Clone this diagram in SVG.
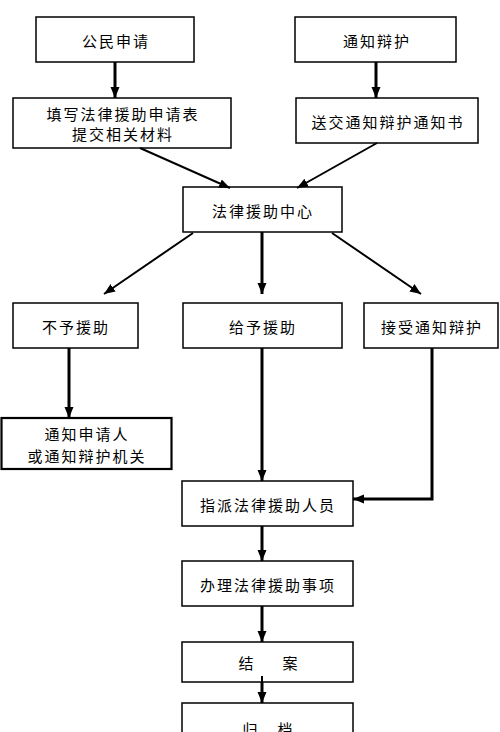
<svg xmlns="http://www.w3.org/2000/svg" width="500" height="732" viewBox="0 0 500 732">
<style>
.box{fill:#fff;stroke:#000;stroke-width:1.5}
.t{font-family:"Noto Sans CJK SC","Noto Sans CJK JP",sans-serif;font-size:15px;fill:#000;text-anchor:middle;dominant-baseline:central;letter-spacing:2px}
.c{fill:none;stroke:#000;stroke-width:3}
.d{fill:none;stroke:#000;stroke-width:2}
</style>
<defs>
<marker id="ah" markerUnits="userSpaceOnUse" markerWidth="12" markerHeight="12" viewBox="0 0 12 12" refX="11" refY="6" orient="auto">
<path d="M0,1.5 L11,6 L0,10.5 Z" fill="#000"/>
</marker>
</defs>
<rect width="500" height="732" fill="#fff"/>
<g id="n1"><rect class="box" x="36" y="17" width="158" height="45"/><text class="t" x="116" y="40">公民申请</text></g>
<g id="n2"><rect class="box" x="295" y="17" width="161" height="45"/><text class="t" x="377" y="40">通知辩护</text></g>
<g id="n3"><rect class="box" x="13" y="98" width="218" height="50"/><text class="t" x="123" y="113">填写法律援助申请表</text><text class="t" x="123" y="133">提交相关材料</text></g>
<g id="n4"><rect class="box" x="296" y="98" width="182" height="45"/><text class="t" x="388" y="121">送交通知辩护通知书</text></g>
<g id="n5"><rect class="box" x="183" y="187" width="159" height="45"/><text class="t" x="263" y="210">法律援助中心</text></g>
<g id="n6"><rect class="box" x="13" y="303" width="125" height="45"/><text class="t" x="76" y="326">不予援助</text></g>
<g id="n7"><rect class="box" x="183" y="303" width="159" height="45"/><text class="t" x="263" y="326">给予援助</text></g>
<g id="n8"><rect class="box" x="364" y="303" width="134" height="45"/><text class="t" x="432" y="326">接受通知辩护</text></g>
<g id="n9"><rect class="box" x="1.5" y="418" width="170" height="51" style="stroke-width:2.2"/><text class="t" x="87" y="433">通知申请人</text><text class="t" x="87" y="455">或通知辩护机关</text></g>
<g id="n10"><rect class="box" x="182" y="481" width="171" height="45"/><text class="t" x="268" y="504">指派法律援助人员</text></g>
<g id="n11"><rect class="box" x="182" y="561" width="171" height="45"/><text class="t" x="268" y="584">办理法律援助事项</text></g>
<g id="n12"><rect class="box" x="182" y="642" width="171" height="40"/><text class="t" x="247" y="662">结</text><text class="t" x="291" y="662">案</text></g>
<g id="n13"><rect class="box" x="182" y="703" width="171" height="45"/><text class="t" x="251" y="728">归</text><text class="t" x="286" y="728">档</text></g>
<g id="connectors">
<path class="c" d="M115,62 V98" marker-end="url(#ah)"/>
<path class="c" d="M376,62 V98" marker-end="url(#ah)"/>
<path class="d" d="M140,148 L230,188" marker-end="url(#ah)"/>
<path class="d" d="M377,143 L297,188" marker-end="url(#ah)"/>
<path class="d" d="M193,233 L104,294" marker-end="url(#ah)"/>
<path class="c" d="M262,232 V294" marker-end="url(#ah)"/>
<path class="d" d="M332,233 L421,294" marker-end="url(#ah)"/>
<path class="c" d="M69,348 V418" marker-end="url(#ah)"/>
<path class="c" d="M262,348 V481" marker-end="url(#ah)"/>
<path class="c" d="M432,348 V499 H353" marker-end="url(#ah)"/>
<path class="c" d="M262,526 V561" marker-end="url(#ah)"/>
<path class="c" d="M262,606 V642" marker-end="url(#ah)"/>
<path class="d" d="M262,676 V683"/>
<path class="c" d="M262,682 V703" marker-end="url(#ah)"/>
</g>
</svg>
